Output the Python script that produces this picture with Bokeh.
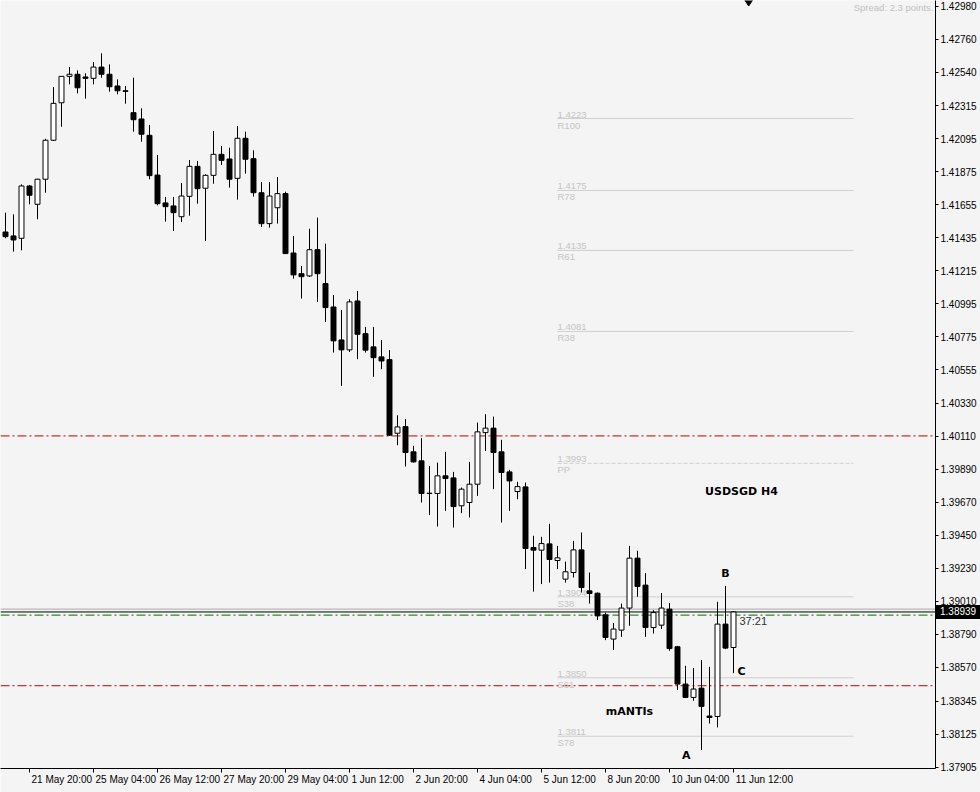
from bokeh.plotting import figure
from bokeh.models import Range1d, FixedTicker, Label, NumeralTickFormatter, ColumnDataSource, LinearAxis, Div
from bokeh.layouts import column
from bokeh.embed import file_html
from bokeh.resources import INLINE

# ---------------- data (USDSGD H4) ----------------
opens = [1.41473, 1.41447, 1.41431, 1.41780, 1.41658, 1.41825, 1.42085, 1.42335, 1.42511, 1.42525,
         1.42507, 1.42498, 1.42573, 1.42525, 1.42447, 1.42415, 1.42269, 1.42227, 1.42118, 1.41853,
         1.41667, 1.41647, 1.41575, 1.41711, 1.41911, 1.41765, 1.41851, 1.41991, 1.41960, 1.41831,
         1.42098, 1.41962, 1.41735, 1.41529, 1.41635, 1.41729, 1.41333, 1.41195, 1.41180, 1.41355,
         1.41129, 1.40973, 1.40753, 1.40687, 1.41013, 1.40795, 1.40707, 1.40640, 1.40622, 1.40131,
         1.40175, 1.40007, 1.39947, 1.39731, 1.39729, 1.39847, 1.39833, 1.39647, 1.39669, 1.39791,
         1.40135, 1.40165, 1.40007, 1.39873, 1.39742, 1.39773, 1.39369, 1.39351, 1.39393, 1.39282,
         1.39158, 1.39202, 1.39353, 1.39080, 1.39064, 1.38920, 1.38758, 1.38818, 1.38965, 1.39298,
         1.39118, 1.38835, 1.38851, 1.38958, 1.38707, 1.38458, 1.38369, 1.38431, 1.38245, 1.38242,
         1.38858, 1.38702]
highs = [1.41602, 1.41591, 1.41791, 1.41787, 1.41828, 1.42095, 1.42440, 1.42513, 1.42573, 1.42551,
         1.42531, 1.42607, 1.42665, 1.42591, 1.42491, 1.42447, 1.42502, 1.42298, 1.42187, 1.41987,
         1.41707, 1.41707, 1.41800, 1.41953, 1.41947, 1.41858, 1.42147, 1.42047, 1.42035, 1.42180,
         1.42142, 1.42018, 1.41807, 1.41807, 1.41840, 1.41742, 1.41447, 1.41247, 1.41495, 1.41569,
         1.41395, 1.41053, 1.40953, 1.41025, 1.41080, 1.40840, 1.40840, 1.40753, 1.40685, 1.40251,
         1.40225, 1.40047, 1.40098, 1.39913, 1.39935, 1.40007, 1.39873, 1.39769, 1.39940, 1.40202,
         1.40258, 1.40242, 1.40087, 1.39887, 1.39807, 1.39802, 1.39447, 1.39440, 1.39527, 1.39380,
         1.39275, 1.39413, 1.39469, 1.39202, 1.39069, 1.38935, 1.38865, 1.38995, 1.39380, 1.39347,
         1.39198, 1.38951, 1.39065, 1.38998, 1.38713, 1.38580, 1.38565, 1.38618, 1.38573, 1.39007,
         1.39113, 1.38945]
lows = [1.41431, 1.41342, 1.41351, 1.41658, 1.41558, 1.41735, 1.42080, 1.42175, 1.42458, 1.42398,
        1.42362, 1.42458, 1.42502, 1.42409, 1.42391, 1.42329, 1.42142, 1.42075, 1.41825, 1.41651,
        1.41542, 1.41480, 1.41540, 1.41582, 1.41662, 1.41413, 1.41795, 1.41920, 1.41769, 1.41689,
        1.41862, 1.41709, 1.41507, 1.41502, 1.41529, 1.41327, 1.41162, 1.41029, 1.41173, 1.41007,
        1.40873, 1.40669, 1.40447, 1.40673, 1.40625, 1.40669, 1.40507, 1.40558, 1.40113, 1.40051,
        1.39909, 1.39935, 1.39669, 1.39585, 1.39509, 1.39613, 1.39502, 1.39598, 1.39569, 1.39713,
        1.40013, 1.39758, 1.39535, 1.39613, 1.39691, 1.39225, 1.39075, 1.39125, 1.39135, 1.39225,
        1.39135, 1.39169, 1.39069, 1.38995, 1.38885, 1.38751, 1.38685, 1.38773, 1.38847, 1.39040,
        1.38773, 1.38795, 1.38825, 1.38680, 1.38418, 1.38365, 1.38347, 1.38018, 1.38195, 1.38169,
        1.38691, 1.38531]
closes = [1.41442, 1.41420, 1.41780, 1.41718, 1.41825, 1.42085, 1.42331, 1.42511, 1.42525, 1.42435,
          1.42498, 1.42573, 1.42525, 1.42442, 1.42415, 1.42411, 1.42222, 1.42125, 1.41849, 1.41662,
          1.41642, 1.41602, 1.41713, 1.41911, 1.41762, 1.41851, 1.41991, 1.41951, 1.41825, 1.42098,
          1.41958, 1.41735, 1.41529, 1.41713, 1.41729, 1.41329, 1.41187, 1.41175, 1.41355, 1.41195,
          1.40969, 1.40747, 1.40687, 1.41007, 1.40791, 1.40685, 1.40635, 1.40613, 1.40118, 1.40173,
          1.40002, 1.39940, 1.39729, 1.39729, 1.39847, 1.39829, 1.39642, 1.39758, 1.39791, 1.40140,
          1.40165, 1.40002, 1.39869, 1.39813, 1.39775, 1.39362, 1.39351, 1.39395, 1.39289, 1.39300,
          1.39207, 1.39353, 1.39102, 1.39062, 1.38913, 1.38769, 1.38825, 1.38965, 1.39298, 1.39109,
          1.38835, 1.38935, 1.38965, 1.38695, 1.38458, 1.38369, 1.38425, 1.38309, 1.38235, 1.38858,
          1.38698, 1.38939]

time_tick_index = [3, 11, 19, 27, 35, 43, 51, 59, 67, 75, 83, 91]
time_tick_labels = ["21 May 20:00", "25 May 04:00", "26 May 12:00", "27 May 20:00", "29 May 04:00",
                    "1 Jun 12:00", "2 Jun 20:00", "4 Jun 04:00", "5 Jun 12:00", "8 Jun 20:00",
                    "10 Jun 04:00", "11 Jun 12:00"]
price_ticks = [1.42980, 1.42760, 1.42540, 1.42315, 1.42095, 1.41875, 1.41655, 1.41435, 1.41215,
               1.40995, 1.40775, 1.40555, 1.40330, 1.40110, 1.39890, 1.39670, 1.39450, 1.39230,
               1.39010, 1.38790, 1.38570, 1.38345, 1.38125, 1.37905]

pivot_names = ["R100", "R78", "R61", "R38", "PP", "S38", "S61", "S78"]
pivot_labels = ["1.4223", "1.4175", "1.4135", "1.4081", "1.3993", "1.3904", "1.3850", "1.3811"]
pivot_values = [1.4223, 1.4175, 1.4135, 1.4081, 1.3993, 1.3904, 1.3850, 1.3811]
pivot_start = 69
pivot_end = 106

red_levels = [1.40113, 1.38447]
green_level = 1.38918
bid_price = 1.38939
ask_line = 1.38958

wave_labels = ["A", "B", "C"]
wave_x = [85.1, 90.0, 92.0]
wave_y = [1.37980, 1.39193, 1.38540]

top_marker_x = [92.9]
top_marker_y = [1.43017]

# ---------------- figure ----------------
BG = "#f4f4f4"
FONT = "Liberation Sans"
BOLD_FONT = "DejaVu Sans"
W, H = 980, 792
RIGHT, BOTTOM = 45, 24
x_lo, x_hi = -0.625, 116.25
y_lo, y_hi = 1.37895, 1.43017

p = figure(width=W, height=H, output_backend="svg", toolbar_location=None,
           x_range=Range1d(x_lo, x_hi), y_range=Range1d(y_lo, y_hi),
           y_axis_location="right",
           min_border_left=0, min_border_top=0, min_border_right=RIGHT, min_border_bottom=BOTTOM)
p.background_fill_color = BG
p.border_fill_color = BG
p.outline_line_color = None
p.xgrid.visible = False
p.ygrid.visible = False

# x axis: tick marks only
xa = p.xaxis[0]
xa.ticker = FixedTicker(ticks=time_tick_index)
xa.major_label_overrides = {i: "" for i in time_tick_index}
xa.major_tick_out = 4
xa.major_tick_in = 0
xa.minor_tick_out = 0
xa.minor_tick_in = 0
xa.major_label_standoff = 0
xa.major_label_text_font_size = "1px"
xa.axis_line_color = "black"
xa.major_tick_line_color = "black"

# x axis labels: MT4 draws the text to the right of each tick mark
char_w = {" ": 2.78, ":": 2.78, "M": 8.33, "a": 5.56, "y": 5.0, "J": 5.0, "u": 5.56, "n": 5.56}
px_per_unit = (W - RIGHT) / (x_hi - x_lo)
def label_shift(s):
    w = sum(char_w.get(ch, 5.56) for ch in s)
    return (w / 2 + 2) / px_per_unit
label_pos = [i + label_shift(s) for i, s in zip(time_tick_index, time_tick_labels)]
xl = LinearAxis(ticker=FixedTicker(ticks=label_pos),
                major_label_overrides={v: s for v, s in zip(label_pos, time_tick_labels)},
                axis_line_color=None, major_tick_line_color=None, minor_tick_line_color=None,
                major_tick_out=0, major_tick_in=0, minor_tick_out=0, minor_tick_in=0,
                major_label_standoff=1, major_label_text_font=FONT,
                major_label_text_font_size="10px", major_label_text_color="black")
p.add_layout(xl, "below")

ya = p.yaxis[0]
ya.ticker = FixedTicker(ticks=price_ticks)
ya.formatter = NumeralTickFormatter(format="0.00000")
ya.major_tick_out = 3
ya.major_tick_in = 0
ya.minor_tick_out = 0
ya.minor_tick_in = 0
ya.major_label_standoff = 2
ya.major_label_text_font = FONT
ya.major_label_text_font_size = "10px"
ya.major_label_text_color = "black"
ya.axis_line_color = "black"
ya.major_tick_line_color = "black"

# horizontal levels
for lv in red_levels:
    p.line([x_lo, x_hi], [lv, lv], line_color="#c00000", line_width=1, line_dash="9 3 2 3")
p.line([x_lo, x_hi], [ask_line, ask_line], line_color="#a8a8a8", line_width=1)
p.line([x_lo, x_hi], [green_level, green_level], line_color="#007000", line_width=1, line_dash="9 3 2 3")
p.line([x_lo, x_hi], [bid_price, bid_price], line_color="black", line_width=1)

# pivot levels
for nm, lb, v in zip(pivot_names, pivot_labels, pivot_values):
    p.line([pivot_start, pivot_end], [v, v], line_color="#cfcfcf", line_width=1,
           line_dash="4 2" if nm == "PP" else "solid")
    p.add_layout(Label(x=pivot_start, y=v, text=lb, text_font=FONT, text_font_size="9.5px",
                       text_color="#c4c4c4", text_align="left", text_baseline="bottom", y_offset=1))
    p.add_layout(Label(x=pivot_start, y=v, text=nm, text_font=FONT, text_font_size="9.5px",
                       text_color="#c4c4c4", text_align="left", text_baseline="top", y_offset=-1))

# candles
n = len(opens)
idx = list(range(n))
src = ColumnDataSource(dict(
    x=idx, o=opens, h=highs, l=lows, c=closes,
    top=[max(o, c) for o, c in zip(opens, closes)],
    bot=[min(o, c) for o, c in zip(opens, closes)],
    fill=["white" if c >= o else "black" for o, c in zip(opens, closes)],
))
p.segment(x0="x", y0="l", x1="x", y1="h", source=src, line_color="black", line_width=1)
p.vbar(x="x", width=0.62, top="top", bottom="bot", source=src,
       fill_color="fill", line_color="black", line_width=1)

# top marker
p.scatter(top_marker_x, top_marker_y, marker="diamond", size=11, fill_color="black", line_color="black")

# texts
p.add_layout(Label(x=92, y=1.3974, text="USDSGD H4", text_font=BOLD_FONT, text_font_size="11px",
                   text_font_style="bold", text_color="black", text_align="center", text_baseline="middle"))
p.add_layout(Label(x=78, y=1.38273, text="mANTIs", text_font=BOLD_FONT, text_font_size="11px",
                   text_font_style="bold", text_color="black", text_align="center", text_baseline="middle"))
for t, wx, wy in zip(wave_labels, wave_x, wave_y):
    p.add_layout(Label(x=wx, y=wy, text=t, text_font=BOLD_FONT, text_font_size="11px",
                       text_font_style="bold", text_color="black", text_align="center", text_baseline="middle"))
p.add_layout(Label(x=91.75, y=1.3888, text="37:21", text_font=FONT, text_font_size="11px",
                   text_color="#303030", text_align="left", text_baseline="middle"))
p.add_layout(Label(x=x_hi, y=y_hi, x_offset=-2, y_offset=-1, text="Spread: 2.3 points.",
                   text_font=FONT, text_font_size="9.5px", text_color="#c0c0c0",
                   text_align="right", text_baseline="top"))

# current price box on the price axis (HTML overlay, placed with the chart's y scale)
frame_h = H - BOTTOM
BOX_H = 14
box_top = (y_hi - bid_price) / (y_hi - y_lo) * frame_h - BOX_H / 2
price_box = Div(text="1.38939", width=RIGHT - 1, height=BOX_H, margin=0,
                styles={"position": "absolute", "left": f"{W - RIGHT + 1}px", "top": f"{box_top:.1f}px",
                        "background-color": "black", "color": "white", "font-family": FONT,
                        "font-size": "10px", "line-height": f"{BOX_H}px", "padding-left": "4px",
                        "box-sizing": "border-box", "z-index": "10", "overflow": "hidden"})

layout = column(p, price_box, spacing=0)
open("out.html", "w").write(file_html(layout, INLINE))
